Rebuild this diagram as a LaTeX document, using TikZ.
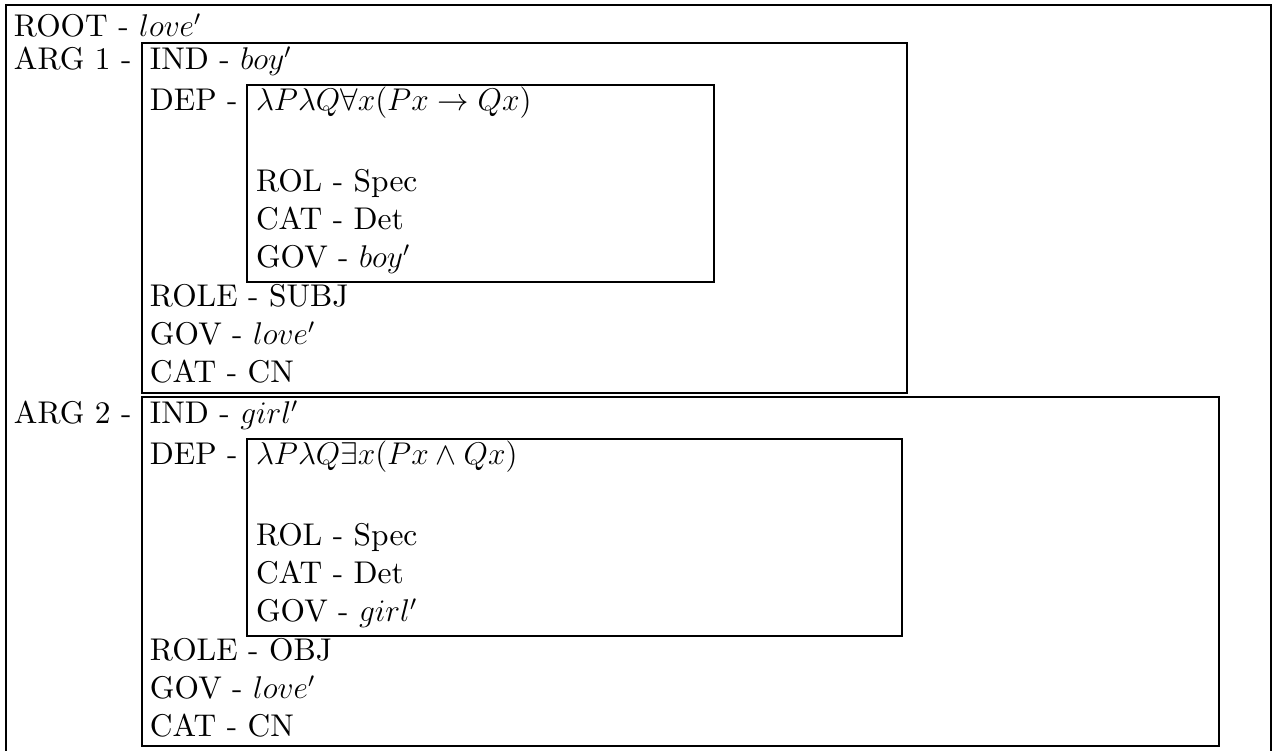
\documentclass[tikz,border=0pt]{standalone}
\usepackage{amsmath}
\usepackage{fontspec}
\setmainfont{lmroman10-regular.otf}[ItalicFont=lmroman10-italic.otf]
\begin{document}
\begin{tikzpicture}[x=0.382pt,y=-0.382pt,
  txt/.style={anchor=base west,inner sep=0pt,outer sep=0pt,font=\fontsize{12}{14.5}\selectfont},
  frame/.style={draw=black,line width=0.4pt}]
\useasboundingbox (0,0) rectangle (1275,751);
% outer frame
\draw[frame] (6,751) -- (6,5) -- (1271,5) -- (1271,751);
% ARG boxes
\draw[frame] (142,43) rectangle (907,393);
\draw[frame] (247,85) rectangle (714,282);
\draw[frame] (142,397) rectangle (1219,746);
\draw[frame] (247,439) rectangle (902,636);
% column 1
\node[txt] (root) at (14,37) {ROOT - $love'$};
\node[txt] (arg1) at (14,70) {ARG 1 -};
\node[txt] (arg2) at (14,424) {ARG 2 -};
% ARG 1 contents
\node[txt] (ind1) at (150,70) {IND - $boy'$};
\node[txt] (dep1) at (150,111) {DEP -};
\node[txt] (lam1) at (256,111) {$\lambda P\lambda Q\forall x(Px\rightarrow Qx)$};
\node[txt] (rol1) at (256,192) {ROL - Spec};
\node[txt] (cat1) at (256,230) {CAT - Det};
\node[txt] (gov1) at (256,268) {GOV - $boy'$};
\node[txt] (role1) at (150,307) {ROLE - SUBJ};
\node[txt] (govl1) at (150,345) {GOV - $love'$};
\node[txt] (catn1) at (150,383) {CAT - CN};
% ARG 2 contents
\node[txt] (ind2) at (150,424) {IND - $girl'$};
\node[txt] (dep2) at (150,465) {DEP -};
\node[txt] (lam2) at (256,465) {$\lambda P\lambda Q\exists x(Px\land Qx)$};
\node[txt] (rol2) at (256,546) {ROL - Spec};
\node[txt] (cat2) at (256,584) {CAT - Det};
\node[txt] (gov2) at (256,622) {GOV - $girl'$};
\node[txt] (role2) at (150,661) {ROLE - OBJ};
\node[txt] (govl2) at (150,699) {GOV - $love'$};
\node[txt] (catn2) at (150,737) {CAT - CN};
\end{tikzpicture}
\end{document}
